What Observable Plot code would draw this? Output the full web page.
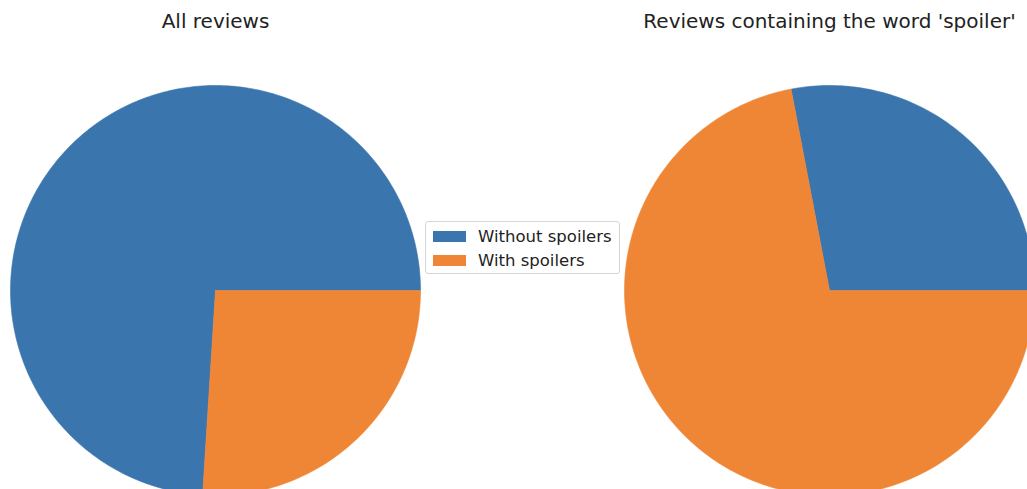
<!DOCTYPE html>
<html>
<head>
<meta charset="utf-8">
<script src="https://cdn.jsdelivr.net/npm/d3@7"></script>
<script src="https://cdn.jsdelivr.net/npm/@observablehq/plot@0.6"></script>
<style>
  html, body { margin: 0; padding: 0; background: #fff; overflow: hidden; }
  #wrap { position: relative; width: 1027px; height: 489px; font-family: "DejaVu Sans", sans-serif; }
  #legend { position: absolute; left: 425px; top: 221px; width: 195px; height: 53px;
    border: 1px solid #d6d6d6; border-radius: 3px; background: rgba(255,255,255,0.85); box-sizing: border-box; }
  .item { position: absolute; left: 7px; height: 20px; display: flex; align-items: center; font-size: 16.5px; color: #222; }
  .sw { width: 33px; height: 11px; margin-right: 12px; }
</style>
</head>
<body>
<div id="wrap"></div>
<script>
// ---- data ----
const categories = ["Without spoilers", "With spoilers"];
const panelTitles = ["All reviews", "Reviews containing the word 'spoiler'"];
const allReviews = [0.74, 0.26];
const spoilerWordReviews = [0.28, 0.72];
const colors = ["#3a75ae", "#ef8636"];

// ---- layout ----
const W = 1027, H = 489;
const centers = [[215, 290], [829, 290]];
const R = 205;
const panelValues = [allReviews, spoilerWordReviews];

// build slice polygons from values (matplotlib: start at 0 rad, counterclockwise)
const pts = [];
panelValues.forEach((vals, p) => {
  const total = d3.sum(vals);
  let a0 = 0;
  vals.forEach((v, i) => {
    const a1 = a0 + (v / total) * 2 * Math.PI;
    const id = p + "-" + i;
    const [cx, cy] = centers[p];
    pts.push({id, cat: categories[i], x: cx, y: cy});
    const n = Math.max(8, Math.ceil((a1 - a0) / (2 * Math.PI) * 360));
    for (let k = 0; k <= n; k++) {
      const a = a0 + (a1 - a0) * k / n;
      pts.push({id, cat: categories[i], x: cx + R * Math.cos(a), y: cy - R * Math.sin(a)});
    }
    pts.push({id, cat: categories[i], x: cx, y: cy});
    a0 = a1;
  });
});

const titles = panelTitles.map((t, p) => ({t, x: centers[p][0], y: 21}));

const plot = Plot.plot({
  width: W, height: H,
  margin: 0,
  x: {domain: [0, W], range: [0, W], axis: null},
  y: {domain: [0, H], range: [0, H], axis: null},
  color: {domain: categories, range: colors},
  style: {background: "white", overflow: "hidden"},
  marks: [
    Plot.line(pts, {x: "x", y: "y", z: "id", fill: "cat", stroke: "cat", strokeWidth: 0.6, curve: "linear-closed", clip: true}),
    Plot.text(titles, {x: "x", y: "y", text: "t", fontSize: 20, fill: "#222", textAnchor: "middle", fontFamily: "DejaVu Sans"})
  ]
});
const wrap = document.getElementById("wrap");
wrap.appendChild(plot);

// legend
const leg = document.createElement("div");
leg.id = "legend";
categories.forEach((c, i) => {
  const it = document.createElement("div");
  it.className = "item";
  it.style.top = (i === 0 ? 4 : 28) + "px";
  const sw = document.createElement("span");
  sw.className = "sw";
  sw.style.background = colors[i];
  it.appendChild(sw);
  it.appendChild(document.createTextNode(c));
  leg.appendChild(it);
});
wrap.appendChild(leg);
</script>
</body>
</html>
